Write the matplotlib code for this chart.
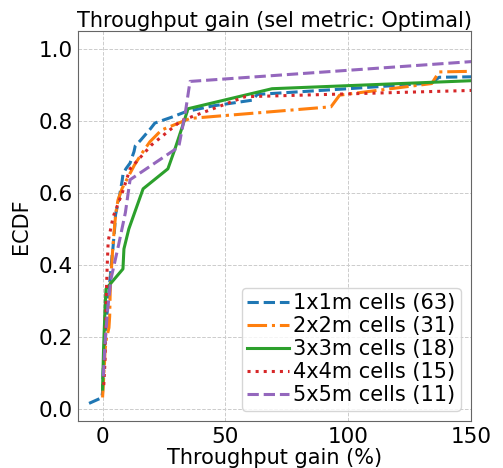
import numpy as np
import matplotlib
matplotlib.use('Agg')
import matplotlib.pyplot as plt

# sorted throughput gains (%) per cell size
gain_1x1 = [-5.5, -0.3, 0.0, 0.0, 0.1, 0.2, 0.3, 0.4, 0.5, 0.6, 0.8, 1.0, 1.1, 1.3,
            1.5, 1.7, 1.9, 2.1, 2.3, 2.5, 2.7, 2.9, 3.1, 3.3, 3.5, 3.7, 3.9, 4.2,
            4.4, 4.6, 4.8, 5.0, 5.1, 5.3, 5.8, 6.3, 6.8, 7.2, 7.6, 8.0, 8.3, 9.5,
            11.2, 12.0, 12.8, 13.3, 15.5, 17.5, 19.5, 21.3, 28.0, 34.0, 45.0, 61.0,
            63.0, 100.0, 134.0, 137.0, 300.0, 400.0, 500.0, 600.0, 800.0]
gain_2x2 = [0.0, 0.3, 0.5, 0.8, 1.0, 1.5, 2.6, 2.9, 3.0, 3.1, 3.3, 3.6, 3.9, 4.2,
            4.6, 5.0, 5.5, 6.3, 8.0, 10.5, 13.0, 16.0, 19.3, 24.0, 35.6, 93.0,
            96.5, 134.0, 137.0, 400.0, 600.0]
gain_3x3 = [0.0, 0.2, 0.4, 0.7, 1.0, 1.4, 8.3, 8.7, 10.7, 13.6, 16.5, 26.6, 29.5,
            32.2, 34.8, 69.0, 272.0, 450.0]
gain_4x4 = [0.5, 1.0, 1.2, 1.4, 1.6, 1.9, 2.3, 4.3, 8.0, 11.2, 20.0, 32.0, 58.0,
            410.0, 600.0]
gain_5x5 = [0.3, 1.0, 2.0, 3.5, 6.5, 9.3, 11.2, 31.0, 33.6, 35.6, 225.0]

labels = ['1x1m cells (63)', '2x2m cells (31)', '3x3m cells (18)',
          '4x4m cells (15)', '5x5m cells (11)']
series = [gain_1x1, gain_2x2, gain_3x3, gain_4x4, gain_5x5]
styles = ['--', '-.', '-', ':', '--']
colors = ['#1f77b4', '#ff7f0e', '#2ca02c', '#d62728', '#9467bd']

fig = plt.figure(figsize=(5.03, 4.68), dpi=100)
ax = fig.add_axes([78/503, 1 - 421/468, (471-78)/503, (421-31)/468])

for g, lab, ls, c in zip(series, labels, styles, colors):
    x = np.sort(np.array(g))
    y = np.arange(1, len(x) + 1) / len(x)
    ax.plot(x, y, ls, color=c, lw=2.2, label=lab)

ax.set_xlim(-10, 150)
ax.set_ylim(-0.033, 1.049)
ax.set_xticks([0, 50, 100, 150])
ax.set_yticks([0.0, 0.2, 0.4, 0.6, 0.8, 1.0])
ax.grid(True, ls='--', lw=0.7, color='#cccccc')
for s in ax.spines.values():
    s.set_color('#666666')
ax.tick_params(labelsize=15.5, length=0, pad=4)
ax.set_xlabel('Throughput gain (%)', fontsize=15, labelpad=1)
ax.set_ylabel('ECDF', fontsize=15, labelpad=5)
ax.set_title('Throughput gain (sel metric: Optimal)', fontsize=15, pad=3)
ax.legend(loc='lower right', fontsize=15, labelspacing=0.15, handletextpad=0.2,
          borderpad=0.25, handlelength=2.0)

fig.savefig('out.png', dpi=100)
